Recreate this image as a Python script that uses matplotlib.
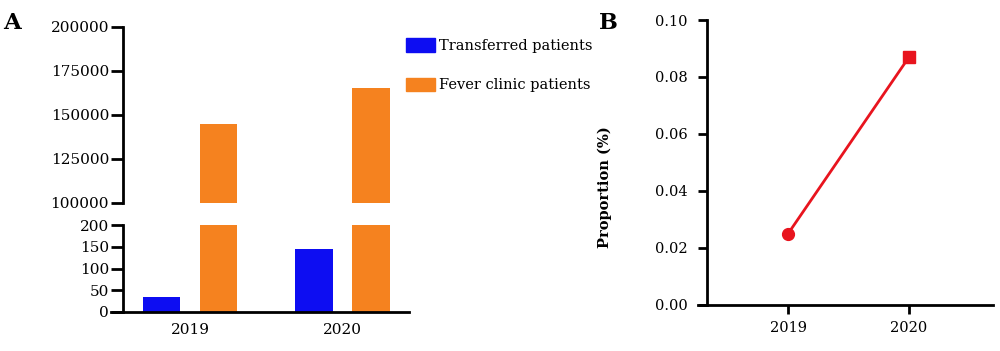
import matplotlib
matplotlib.use("Agg")
import matplotlib.pyplot as plt
from matplotlib.patches import Patch
import numpy as np

years = ["2019", "2020"]
transferred = [34, 144]
fever_clinic = [145000, 165500]
proportion = [0.025, 0.087]
prop_markers = ["o", "s"]
top_ticks = [100000, 125000, 150000, 175000, 200000]
bottom_ticks = [0, 50, 100, 150, 200]
prop_ticks = [0.00, 0.02, 0.04, 0.06, 0.08, 0.10]

BLUE = "#0D0DF2"
ORANGE = "#F5821F"
RED = "#E8141E"
FONT = "DejaVu Serif"
plt.rcParams["font.family"] = FONT

W, H = 1000, 351
fig = plt.figure(figsize=(W / 100, H / 100), dpi=100)

def box(x0, x1, ytop, ybot):
    return [x0 / W, 1 - ybot / H, (x1 - x0) / W, (ybot - ytop) / H]

LW = 2.0
TSA = 11
TSB = 10.5

x = np.arange(len(years))
bw = 0.246
off = 0.186
xl = (-0.518, 1.436)

ax_top = fig.add_axes(box(111, 409, 27, 203))
ax_bot = fig.add_axes(box(111, 409, 225.3, 311.7))

for ax in (ax_top, ax_bot):
    ax.bar(x - off, transferred, bw, color=BLUE)
    ax.bar(x + off, fever_clinic, bw, color=ORANGE)
    ax.set_xlim(*xl)
    ax.patch.set_visible(False)
    for s in ("top", "right"):
        ax.spines[s].set_visible(False)
    ax.spines["left"].set_position(("axes", 0.04))
    ax.spines["left"].set_linewidth(LW)
    ax.spines["bottom"].set_linewidth(LW)
    ax.tick_params(axis="y", length=8.5, width=LW, direction="out",
                   labelsize=TSA, pad=1.5)

ax_top.set_ylim(100000, 200000)
ax_top.set_yticks(top_ticks)
ax_top.set_yticks([top_ticks[0]], minor=True)
ax_top.tick_params(axis="y", which="minor", length=6, width=LW, direction="in")
ax_top.spines["bottom"].set_visible(False)
ax_top.set_xticks([])

ax_bot.set_ylim(0, 200)
ax_bot.set_yticks(bottom_ticks)
ax_bot.set_yticks([bottom_ticks[-1]], minor=True)
ax_bot.tick_params(axis="y", which="minor", length=6, width=LW, direction="in")
ax_bot.set_xticks(x)
ax_bot.set_xticklabels(years)
ax_bot.tick_params(axis="x", length=0, pad=8, labelsize=TSA)

handles = [Patch(color=BLUE, label="Transferred patients"),
           Patch(color=ORANGE, label="Fever clinic patients")]
fig.legend(handles=handles, loc="upper left",
           bbox_to_anchor=(406 / W, 1 - 38 / H), frameon=False,
           fontsize=10.5, handlelength=2.0, handleheight=1.05,
           handletextpad=0.25, labelspacing=1.7, borderpad=0,
           borderaxespad=0)

# Panel B
axb = fig.add_axes(box(698, 993, 20, 305))
axb.plot(x, proportion, color=RED, lw=2.0, zorder=2)
for xi, yi, m in zip(x, proportion, prop_markers):
    axb.plot([xi], [yi], marker=m, color=RED, ms=8.5 if m == "o" else 8,
             ls="none", zorder=3)
axb.set_xlim(-0.744, 1.694)
axb.set_ylim(0, 0.1)
axb.set_yticks(prop_ticks)
axb.set_yticklabels([f"{v:.2f}" for v in prop_ticks])
axb.set_xticks(x)
axb.set_xticklabels(years)
for s in ("top", "right"):
    axb.spines[s].set_visible(False)
axb.spines["left"].set_position(("axes", 0.0295))
axb.spines["left"].set_linewidth(LW)
axb.spines["bottom"].set_linewidth(LW)
axb.tick_params(axis="y", length=6.5, width=LW, labelsize=TSB, pad=7)
axb.tick_params(axis="x", length=6.5, width=LW, labelsize=TSB, pad=5)
axb.patch.set_visible(False)
for ln in axb.lines:
    ln.set_clip_on(False)
fig.text(605 / W, 1 - 187 / H, "Proportion (%)", rotation=90,
         fontsize=10.5, fontweight="bold", ha="center", va="center")

fig.text(12 / W, 1 - 23 / H, "A", fontsize=16.5, fontweight="bold",
         ha="center", va="center")
fig.text(608 / W, 1 - 23 / H, "B", fontsize=16, fontweight="bold",
         ha="center", va="center")

fig.savefig("out.png", dpi=100)
